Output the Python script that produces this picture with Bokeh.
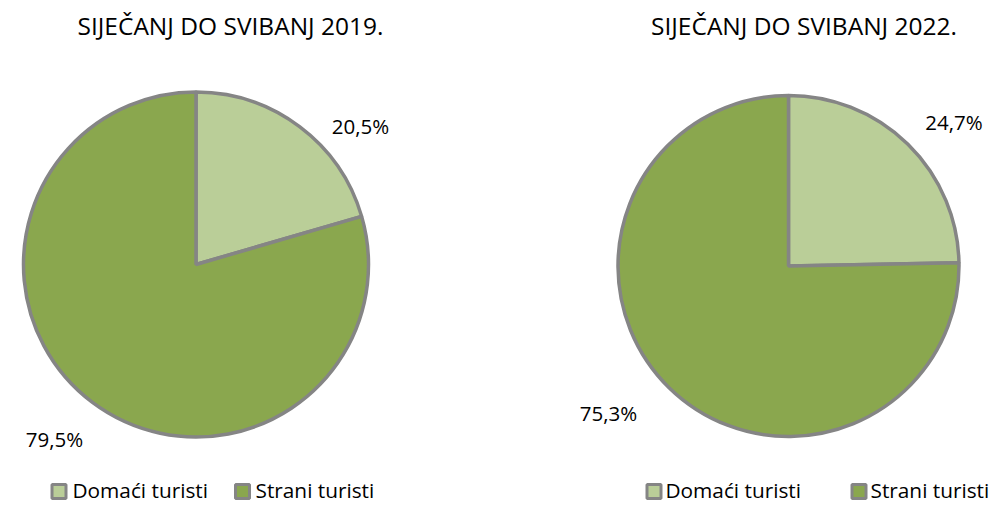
import numpy as np
from bokeh.plotting import figure
from bokeh.models import Range1d, ColumnDataSource
from bokeh.core.properties import value
from bokeh.embed import file_html
from bokeh.resources import INLINE

categories = ["Domaći turisti", "Strani turisti"]
titles = ["SIJEČANJ DO SVIBANJ 2019.", "SIJEČANJ DO SVIBANJ 2022."]
values_2019 = [20.5, 79.5]
values_2022 = [24.7, 75.3]
label_text_2019 = ["20,5%", "79,5%"]
label_text_2022 = ["24,7%", "75,3%"]
colors = ["#BACE98", "#8AA74E"]
edge = "#858585"

W, H = 1000, 505
p = figure(width=W, height=H, output_backend="svg", toolbar_location=None,
           x_range=Range1d(0, W), y_range=Range1d(0, H), min_border=0)
p.axis.visible = False
p.grid.visible = False
p.outline_line_color = None
p.background_fill_color = "white"
p.border_fill_color = "white"

FONT = value("Open Sans")

pies = [
    dict(vals=values_2019, labels=label_text_2019, title=titles[0],
         cx=195.5, cy=241, r=172.5,
         lab_xy=[(360, 380), (54, 67)], title_xy=(230, 480),
         leg_sq=[58.5, 242], leg_tx=[72, 255]),
    dict(vals=values_2022, labels=label_text_2022, title=titles[1],
         cx=788, cy=239.5, r=170.5,
         lab_xy=[(953.5, 384), (608, 93)], title_xy=(803.5, 480),
         leg_sq=[653.5, 858.5], leg_tx=[665, 870]),
]

for pie in pies:
    v = np.array(pie["vals"], dtype=float)
    frac = v / v.sum()
    cum = np.concatenate([[0], np.cumsum(frac)])
    start = np.pi / 2 - 2 * np.pi * cum[:-1]
    end = np.pi / 2 - 2 * np.pi * cum[1:]
    src = ColumnDataSource(dict(x=[pie["cx"]] * len(v), y=[pie["cy"]] * len(v),
                                start=start, end=end, color=colors))
    p.wedge(x="x", y="y", radius=pie["r"], start_angle="start", end_angle="end",
            direction="clock", fill_color="color", line_color=edge, line_width=3.5,
            source=src)
    lx = [a for a, b in pie["lab_xy"]]
    ly = [b for a, b in pie["lab_xy"]]
    p.text(x=lx, y=ly, text=pie["labels"], text_font=FONT, text_font_size="20.5px",
           text_align="center", text_baseline="middle", text_color="#000000")
    p.text(x=[pie["title_xy"][0]], y=[pie["title_xy"][1]], text=[pie["title"]],
           text_font=FONT, text_font_size="24.5px", text_align="center",
           text_baseline="middle", text_color="#000000")
    p.scatter(x=pie["leg_sq"], y=[14, 14], marker="square", size=14,
              fill_color=colors, line_color=edge, line_width=3)
    p.text(x=pie["leg_tx"], y=[15.5, 15.5], text=categories, text_font=FONT,
           text_font_size="20.8px", text_align="left", text_baseline="middle",
           text_color="#000000")

open("out.html", "w").write(file_html(p, INLINE))
